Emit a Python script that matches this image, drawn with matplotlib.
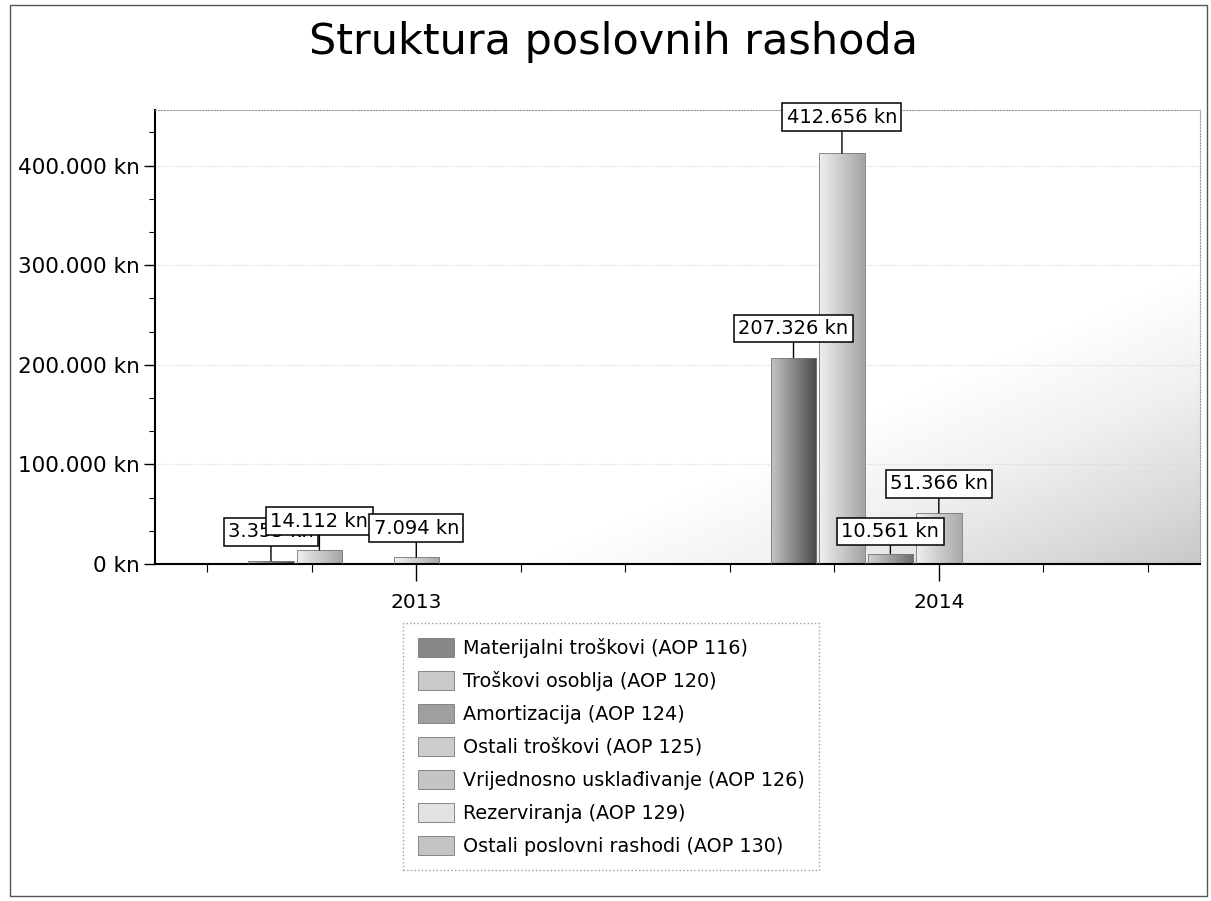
import numpy as np
import matplotlib.pyplot as plt
from matplotlib.ticker import FuncFormatter, MultipleLocator, FixedLocator
from matplotlib.patches import Rectangle
from matplotlib.colors import LinearSegmentedColormap

# podaci sa slike (kn)
godine = ['2013', '2014']
serije = ['Materijalni troškovi (AOP 116)', 'Troškovi osoblja (AOP 120)',
          'Amortizacija (AOP 124)', 'Ostali troškovi (AOP 125)',
          'Vrijednosno usklađivanje (AOP 126)', 'Rezerviranja (AOP 129)',
          'Ostali poslovni rashodi (AOP 130)']
materijalni = [3355, 207326]
osoblje = [14112, 412656]
amortizacija = [0, 10561]
ostali_troskovi = [7094, 51366]
vrijednosno = [0, 0]
rezerviranja = [0, 0]
ostali_poslovni = [0, 0]
vrijednosti = [materijalni, osoblje, amortizacija, ostali_troskovi,
               vrijednosno, rezerviranja, ostali_poslovni]

# boje (svijetla lijevo, tamna desno)
boje = [('#c4c4c4', '#4a4a4a'), ('#efefef', '#a4a4a4'), ('#d2d2d2', '#6c6c6c'),
        ('#f0f0f0', '#aaaaaa'), ('#e8e8e8', '#a0a0a0'), ('#f7f7f7', '#cdcdcd'),
        ('#eaeaea', '#9c9c9c')]
# pomak natpisa iznad stupca (tocke)
podizanje = {(1, 1): 19, (1, 2): 9}


def kn(v, pos=None):
    return f"{int(round(v)):,} kn".replace(',', '.')


plt.rcParams['font.family'] = ['DejaVu Sans']
fig = plt.figure(figsize=(12.11, 9.01), dpi=100)
ax = fig.add_axes([0.128, 0.374, 0.863, 0.504])

x = np.arange(len(godine))
sirina = 0.0927
for i, (s, v) in enumerate(zip(serije, vrijednosti)):
    pos = x + (i - 3) * sirina
    bars = ax.bar(pos, v, width=sirina * 0.94, facecolor='none',
                  edgecolor='#777777', linewidth=0.6, zorder=3)
    cmap = LinearSegmentedColormap.from_list('g%d' % i, boje[i])
    for b in bars:
        if b.get_height() <= 0:
            continue
        bx, bw, bh = b.get_x(), b.get_width(), b.get_height()
        im = ax.imshow(np.linspace(0, 1, 64).reshape(1, -1), cmap=cmap,
                       extent=[bx, bx + bw, 0, bh], aspect='auto', zorder=2)
        im.set_clip_path(b)

# natpisi vrijednosti
for j in range(len(godine)):
    for i, v in enumerate(vrijednosti):
        if v[j] <= 0:
            continue
        xp = x[j] + (i - 3) * sirina
        ax.annotate(kn(v[j]), xy=(xp, v[j]),
                    xytext=(0, podizanje.get((j, i), 14)), textcoords='offset points',
                    ha='center', va='bottom', fontsize=14, zorder=5,
                    bbox=dict(boxstyle='square,pad=0.22', fc='white', ec='black', lw=1.1),
                    arrowprops=dict(arrowstyle='-', color='black', lw=1,
                                    shrinkA=0, shrinkB=0))

# pozadina s blagim prijelazom (donji desni kut)
gx, gy = np.meshgrid(np.linspace(0, 1, 200), np.linspace(1, 0, 200))
grad = np.clip(gx - gy - 0.35, 0, None)
ax.imshow(grad, cmap='Greys', vmin=0, vmax=2.0, extent=[-0.5, 1.5, 0, 456000],
          aspect='auto', zorder=0)

ax.set_xlim(-0.5, 1.5)
ax.set_ylim(0, 456000)
ax.set_xticks(x)
ax.set_xticklabels(godine, fontsize=14.5)
ax.xaxis.set_minor_locator(FixedLocator(np.arange(-0.4, 1.5, 0.2)))
ax.yaxis.set_major_locator(MultipleLocator(100000))
ax.yaxis.set_minor_locator(MultipleLocator(100000 / 3))
ax.yaxis.set_major_formatter(FuncFormatter(kn))
ax.tick_params(axis='y', which='major', labelsize=15.5, length=8, width=1, pad=3)
ax.tick_params(axis='y', which='minor', length=4, width=0.8)
ax.tick_params(axis='x', which='major', length=12, width=1, pad=9)
ax.tick_params(axis='x', which='minor', length=6, width=0.8)
ax.grid(axis='y', which='major', linestyle=':', color='#d5d5d5', linewidth=0.8, zorder=1)
for s in ['top', 'right']:
    ax.spines[s].set_linestyle(':')
    ax.spines[s].set_color('#999999')
    ax.spines[s].set_linewidth(0.8)
ax.spines['left'].set_linewidth(1.5)
ax.spines['bottom'].set_linewidth(1.5)

fig.text(0.507, 0.953, 'Struktura poslovnih rashoda', ha='center', va='center',
         fontsize=31)

rucke = [Rectangle((0, 0), 1, 1, facecolor=LinearSegmentedColormap.from_list('h', b)(0.5),
                   edgecolor='#777777', linewidth=0.6) for b in boje]
leg = fig.legend(rucke, serije, loc='upper left', bbox_to_anchor=(0.333, 0.308),
                 borderaxespad=0, fontsize=13.8, frameon=True, fancybox=False,
                 handlelength=1.9, handleheight=1.15, labelspacing=0.68,
                 borderpad=0.75, handletextpad=0.45)
leg.get_frame().set_edgecolor('#888888')
leg.get_frame().set_linestyle(':')
leg.get_frame().set_linewidth(1)

fig.patches.append(Rectangle((0.008, 0.005), 0.989, 0.99, transform=fig.transFigure,
                             fill=False, edgecolor='#555555', linewidth=1))

fig.savefig('out.png', dpi=100)
